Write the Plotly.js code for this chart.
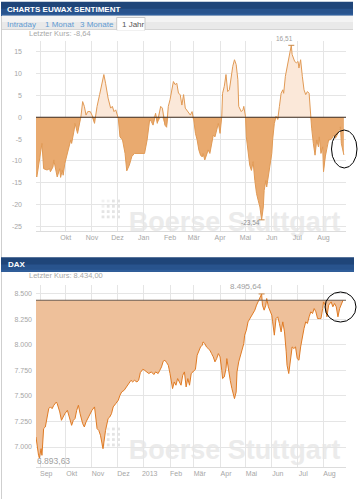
<!DOCTYPE html>
<html><head><meta charset="utf-8">
<script src="https://cdn.plot.ly/plotly-3.0.1.min.js"></script>
<style>html,body{margin:0;padding:0;background:#fff;}#chart{width:360px;height:499px;}</style>
</head><body><div id="chart"></div>
<script>
// ---------- DATA ----------
const sentDates = ['2012-08-27','2012-08-28','2012-09-03','2012-09-05','2012-09-09','2012-09-12','2012-09-13','2012-09-16','2012-09-17','2012-09-20','2012-09-21','2012-09-24','2012-09-25','2012-09-27','2012-09-28','2012-09-30',
'2012-10-02','2012-10-04','2012-10-07','2012-10-08','2012-10-11','2012-10-12','2012-10-15','2012-10-16','2012-10-18','2012-10-19','2012-10-21','2012-10-23','2012-10-25','2012-10-27','2012-10-30',
'2012-11-01','2012-11-04','2012-11-05','2012-11-07','2012-11-10','2012-11-12','2012-11-15','2012-11-17','2012-11-20','2012-11-23','2012-11-25','2012-11-27','2012-11-29',
'2012-12-02','2012-12-04','2012-12-07','2012-12-10','2012-12-12','2012-12-15','2012-12-18','2012-12-21',
'2013-01-02','2013-01-05','2013-01-08','2013-01-10','2013-01-12','2013-01-15','2013-01-17','2013-01-21','2013-01-23','2013-01-26','2013-01-28','2013-01-30',
'2013-02-01','2013-02-03','2013-02-05','2013-02-07','2013-02-09','2013-02-11','2013-02-13','2013-02-15','2013-02-17','2013-02-19','2013-02-22','2013-02-25','2013-02-27',
'2013-03-01','2013-03-03','2013-03-05','2013-03-07','2013-03-09','2013-03-11','2013-03-12','2013-03-14','2013-03-16','2013-03-18','2013-03-20','2013-03-22','2013-03-24','2013-03-26','2013-03-28','2013-03-30',
'2013-04-01','2013-04-03','2013-04-04','2013-04-06','2013-04-08','2013-04-10','2013-04-12','2013-04-14','2013-04-16','2013-04-18','2013-04-20','2013-04-22','2013-04-23','2013-04-26','2013-04-28','2013-04-29',
'2013-05-01','2013-05-02','2013-05-04','2013-05-06','2013-05-08','2013-05-10','2013-05-12','2013-05-14','2013-05-16','2013-05-18','2013-05-20','2013-05-22','2013-05-23','2013-05-25','2013-05-26','2013-05-28','2013-05-30',
'2013-06-01','2013-06-02','2013-06-04','2013-06-06','2013-06-08','2013-06-10','2013-06-12','2013-06-14','2013-06-15','2013-06-17','2013-06-19','2013-06-21','2013-06-22','2013-06-24','2013-06-25','2013-06-28','2013-06-30',
'2013-07-02','2013-07-03','2013-07-05','2013-07-07','2013-07-09','2013-07-11','2013-07-13','2013-07-15','2013-07-17','2013-07-18','2013-07-20','2013-07-22','2013-07-24','2013-07-26','2013-07-27','2013-07-29','2013-07-31',
'2013-08-01','2013-08-03','2013-08-05','2013-08-07','2013-08-09','2013-08-11','2013-08-13','2013-08-15','2013-08-17','2013-08-19','2013-08-21','2013-08-22','2013-08-24','2013-08-25'];
const sentValues = [-13.3,-13.7,-6.0,-11.8,-12.1,-11.8,-12.5,-11.4,-9.8,-13.0,-13.7,-11.8,-13.8,-12.1,-13.3,-10.6,
-8.7,-7.5,-5.2,-6.0,-2.9,-1.4,-3.7,-2.6,-0.6,0.2,3.6,2.5,0.5,1.3,1.3,
0.5,-1.4,0.2,2.5,5.2,7.1,9.8,7.8,4.4,2.1,2.5,1.3,1.7,
-0.2,-4.5,-5.2,-8.3,-12.3,-11.0,-9.0,-8.3,
-8.3,-5.2,-0.6,-1.0,-1.8,0.9,-1.4,2.5,2.1,-1.8,-2.3,2.5,
4.0,6.3,8.2,7.5,7.8,5.5,5.2,2.8,5.2,2.1,1.3,0.5,1.3,
-0.6,-3.7,-5.2,-7.5,-8.7,-9.1,-8.3,-9.8,-8.7,-7.5,-8.3,-6.0,-4.1,-4.5,-2.5,-1.4,
-3.7,0.2,5.5,7.1,9.8,5.9,6.3,9.4,11.7,13.2,12.1,8.6,2.5,1.3,1.7,2.5,
0.2,-4.5,-8.3,-11.0,-12.2,-10.2,-14.5,-17.5,-19.1,-20.6,-23.54,-20.6,-16.8,-14.5,-16.0,-13.7,-10.6,
-8.3,-5.2,-1.4,0.2,-0.5,2.5,5.5,6.3,5.5,9.4,11.7,13.2,14.4,16.51,14.4,12.8,12.5,
12.8,11.3,13.2,9.4,6.3,5.2,5.9,5.5,-0.2,-2.5,-6.0,-8.7,-5.2,-6.8,-4.5,-8.3,-6.8,
-12.5,-9.1,-6.8,-5.2,-5.2,-4.8,-4.1,-4.8,-4.1,-2.9,-2.2,-6.0,-7.9,-8.64];

const daxDates = ['2012-08-27','2012-08-28','2012-08-30','2012-08-31','2012-09-02','2012-09-03','2012-09-05','2012-09-07','2012-09-09','2012-09-11','2012-09-13','2012-09-15','2012-09-17','2012-09-20','2012-09-21','2012-09-24','2012-09-26','2012-09-28','2012-09-30',
'2012-10-03','2012-10-05','2012-10-08','2012-10-10','2012-10-12','2012-10-14','2012-10-16','2012-10-18','2012-10-21','2012-10-23','2012-10-25','2012-10-28','2012-10-31',
'2012-11-01','2012-11-04','2012-11-05','2012-11-07','2012-11-09','2012-11-11','2012-11-14','2012-11-15','2012-11-17','2012-11-20','2012-11-22','2012-11-24','2012-11-26','2012-11-29',
'2012-12-02','2012-12-04','2012-12-06','2012-12-09','2012-12-12','2012-12-14','2012-12-17','2012-12-19','2012-12-21','2012-12-24','2012-12-26','2012-12-28','2012-12-31',
'2013-01-02','2013-01-05','2013-01-07','2013-01-10','2013-01-13','2013-01-15','2013-01-18','2013-01-20','2013-01-22','2013-01-24','2013-01-26','2013-01-28','2013-01-30',
'2013-02-01','2013-02-03','2013-02-04','2013-02-06','2013-02-08','2013-02-10','2013-02-12','2013-02-14','2013-02-16','2013-02-18','2013-02-20','2013-02-22','2013-02-24','2013-02-26','2013-02-28',
'2013-03-03','2013-03-05','2013-03-07','2013-03-09','2013-03-11','2013-03-12','2013-03-14','2013-03-16','2013-03-18','2013-03-20','2013-03-22','2013-03-24','2013-03-26','2013-03-28','2013-03-30',
'2013-04-01','2013-04-03','2013-04-04','2013-04-06','2013-04-08','2013-04-09','2013-04-11','2013-04-13','2013-04-15','2013-04-17','2013-04-18','2013-04-20','2013-04-21','2013-04-23','2013-04-25','2013-04-27','2013-04-29','2013-04-30',
'2013-05-02','2013-05-04','2013-05-06','2013-05-08','2013-05-10','2013-05-12','2013-05-14','2013-05-16','2013-05-18','2013-05-20','2013-05-21','2013-05-23','2013-05-25','2013-05-26','2013-05-28','2013-05-30',
'2013-06-01','2013-06-02','2013-06-04','2013-06-06','2013-06-08','2013-06-10','2013-06-12','2013-06-14','2013-06-16','2013-06-18','2013-06-19','2013-06-21','2013-06-23','2013-06-25','2013-06-27','2013-06-29',
'2013-07-01','2013-07-03','2013-07-05','2013-07-07','2013-07-09','2013-07-11','2013-07-13','2013-07-15','2013-07-17','2013-07-19','2013-07-21','2013-07-23','2013-07-25','2013-07-27','2013-07-29','2013-07-31',
'2013-08-01','2013-08-03','2013-08-05','2013-08-07','2013-08-10','2013-08-12','2013-08-14','2013-08-16','2013-08-18','2013-08-20','2013-08-22','2013-08-24'];
const daxValues = [7098,7017,6919,6893.63,6984,6919,7180,7196,7278,7375,7392,7375,7408,7440,7424,7343,7261,7294,7326,
7359,7294,7212,7261,7278,7359,7408,7326,7229,7196,7245,7294,7343,
7359,7392,7326,7180,7163,7115,6984,7049,7163,7278,7294,7326,7392,7424,
7457,7506,7538,7555,7587,7620,7652,7636,7652,7636,7652,7727,7760,
7750,7727,7718,7734,7708,7734,7718,7750,7783,7838,7848,7825,7799,
7718,7620,7571,7636,7604,7669,7636,7604,7701,7734,7587,7669,7604,7718,7734,
7760,7897,7946,7978,7995,8027,8011,7978,7962,7946,7913,7881,7832,7864,7913,
7881,7750,7669,7685,7766,7864,7734,7652,7571,7489,7473,7538,7734,7832,7897,7946,8011,8093,
8141,8223,8255,8272,8304,8337,8386,8418,8451,8495.64,8386,8337,8386,8451,8370,8321,
8288,8223,8093,8255,8272,8207,8125,8223,8125,7930,7799,7718,7881,7978,7962,7978,
7864,7848,7978,8093,8158,8223,8207,8272,8321,8304,8353,8321,8255,8255,8255,8353,
8418,8386,8272,8386,8418,8370,8402,8370,8272,8353,8402,8434];

const sentLast = -8.64;
const daxLast = 8434.00;
const monthTicks = ['2012-09-01','2012-10-01','2012-11-01','2012-12-01','2013-01-01','2013-02-01','2013-03-01','2013-04-01','2013-05-01','2013-06-01','2013-07-01','2013-08-01'];
const sentMonthLabels = ['','Okt','Nov','Dez','Jan','Feb','Mär','Apr','Mai','Jun','Jul','Aug'];
const daxMonthLabels = ['Sep','Okt','Nov','Dez','2013','Feb','Mär','Apr','Mai','Jun','Jul','Aug'];
const sentTicks = [15,10,5,0,-5,-10,-15,-20,-25];
const sentTickLabels = ['15','10','5','0','-5','-10','-15','-20','-25'];
const daxTicks = [7000,7250,7500,7750,8000,8250,8500];
const daxTickLabels = ['7.000','7.250','7.500','7.750','8.000','8.250','8.500'];

// ---------- helpers ----------
const W = 360, H = 499;
const PX = p => p / W;
const PY = p => 1 - p / H;
const FONT = 'Liberation Sans, Arial, sans-serif';
const deFmt = (v, d) => v.toFixed(d).replace('.', '#').replace(/\B(?=(\d{3})+(?!\d))/g, '.').replace('#', ',');

const sentPos = sentValues.map(v => Math.max(v, 0));
const sentNeg = sentValues.map(v => Math.min(v, 0));
const daxRef = daxDates.map(() => daxLast);

let iMax = 0, iMin = 0;
sentValues.forEach((v, i) => { if (v > sentValues[iMax]) iMax = i; if (v < sentValues[iMin]) iMin = i; });
let dMax = 0, dMin = 0;
daxValues.forEach((v, i) => { if (v > daxValues[dMax]) dMax = i; if (v < daxValues[dMin]) dMin = i; });

const traces = [
  {x: sentDates, y: sentPos, type: 'scatter', mode: 'lines', fill: 'tozeroy', fillcolor: '#fbe8d9', line: {width: 0}, xaxis: 'x', yaxis: 'y', hoverinfo: 'skip'},
  {x: sentDates, y: sentNeg, type: 'scatter', mode: 'lines', fill: 'tozeroy', fillcolor: '#e9aa6f', line: {width: 0}, xaxis: 'x', yaxis: 'y', hoverinfo: 'skip'},
  {x: sentDates, y: sentValues, type: 'scatter', mode: 'lines', line: {color: '#e19a55', width: 1}, xaxis: 'x', yaxis: 'y'},
  {x: daxDates, y: daxRef, type: 'scatter', mode: 'lines', line: {width: 0}, xaxis: 'x2', yaxis: 'y2', hoverinfo: 'skip'},
  {x: daxDates, y: daxValues, type: 'scatter', mode: 'lines', fill: 'tonexty', fillcolor: '#eec09a', line: {color: '#e07b24', width: 1}, xaxis: 'x2', yaxis: 'y2'}
];

const xRange = ['2012-08-27', '2013-08-27 12:00'];
const gridC = '#e5e5e5';
const tickFont = {family: FONT, size: 7, color: '#a6a6a6'};

const shapes = [];
const annotations = [];

// left border of the widgets
shapes.push({type: 'line', xref: 'paper', yref: 'paper', x0: PX(1.5), x1: PX(1.5), y0: PY(16), y1: PY(499), line: {color: '#cfcfcf', width: 1}});

function header(y0, y1, x0, x1) {
  const h = y1 - y0;
  shapes.push({type: 'rect', xref: 'paper', yref: 'paper', x0: PX(x0), x1: PX(x1), y0: PY(y1), y1: PY(y0), fillcolor: '#1f4579', line: {width: 0}, layer: 'above'});
  shapes.push({type: 'rect', xref: 'paper', yref: 'paper', x0: PX(x0), x1: PX(x1), y0: PY(y1), y1: PY(y0 + h * 0.5), fillcolor: '#28538d', line: {width: 0}, layer: 'above'});
  shapes.push({type: 'rect', xref: 'paper', yref: 'paper', x0: PX(x0), x1: PX(x1), y0: PY(y1), y1: PY(y1 - 2), fillcolor: '#2f5e9b', line: {width: 0}, layer: 'above'});
}
header(1.7, 15.8, 1, 353);
header(257.3, 271.7, 1, 354);

// tab row
shapes.push({type: 'rect', xref: 'paper', yref: 'paper', x0: PX(2), x1: PX(353), y0: PY(29.5), y1: PY(15.8), fillcolor: '#e9e9e9', line: {width: 0}});
shapes.push({type: 'rect', xref: 'paper', yref: 'paper', x0: PX(2), x1: PX(353), y0: PY(22), y1: PY(15.8), fillcolor: '#f3f3f3', line: {width: 0}});
shapes.push({type: 'line', xref: 'paper', yref: 'paper', x0: PX(2), x1: PX(353), y0: PY(29.5), y1: PY(29.5), line: {color: '#d4d4d4', width: 1}});
shapes.push({type: 'rect', xref: 'paper', yref: 'paper', x0: PX(116.7), x1: PX(145), y0: PY(30), y1: PY(17.5), fillcolor: '#ffffff', line: {color: '#c9c9c9', width: 1}});
shapes.push({type: 'rect', xref: 'paper', yref: 'paper', x0: PX(117.4), x1: PX(144.3), y0: PY(30.5), y1: PY(28.5), fillcolor: '#ffffff', line: {width: 0}});

// zero line and reference line
shapes.push({type: 'line', xref: 'x domain', yref: 'y', x0: 0, x1: 1, y0: 0, y1: 0, line: {color: '#3d2b1f', width: 1.2}});
shapes.push({type: 'line', xref: 'x2 domain', yref: 'y2', x0: 0, x1: 1, y0: daxLast, y1: daxLast, line: {color: '#6e5c4f', width: 1.2}});

// max/min markers
shapes.push({type: 'line', xref: 'x', yref: 'y', xsizemode: 'pixel', xanchor: sentDates[iMax], x0: -3, x1: 3, y0: sentValues[iMax], y1: sentValues[iMax], line: {color: '#c98a4a', width: 1}});
shapes.push({type: 'line', xref: 'x', yref: 'y', xsizemode: 'pixel', xanchor: sentDates[iMin], x0: -3, x1: 3, y0: sentValues[iMin], y1: sentValues[iMin], line: {color: '#c98a4a', width: 1}});
shapes.push({type: 'line', xref: 'x2', yref: 'y2', xsizemode: 'pixel', xanchor: daxDates[dMax], x0: -3, x1: 3, y0: daxValues[dMax], y1: daxValues[dMax], line: {color: '#c98a4a', width: 1}});

// watermarks
function watermark(xa, ya, pyTop, plotTop, plotBot) {
  const yd = py => (plotBot - py) / (plotBot - plotTop);
  const xd = px => (px - 36) / 310;
  shapes.push({type: 'rect', xref: xa + ' domain', yref: ya + ' domain', x0: xd(125), x1: xd(344), y0: yd(pyTop + 27), y1: yd(pyTop - 3), line: {width: 0}, fillcolor: 'rgba(0,0,0,0)', layer: 'below',
    label: {text: 'Boerse Stuttgart', textposition: 'middle center', font: {family: 'Liberation Sans, Arial, sans-serif', size: 27, color: '#ebebeb', weight: 'bold'}}});
  for (let r = 0; r < 4; r++) for (let c = 0; c < 4; c++) {
    const cx = 103 + c * 5.2, cy = pyTop - 6 + r * 5.3;
    const col = (r + c < 2) ? '#f1f1f1' : '#e4e4e4';
    shapes.push({type: 'rect', xref: xa + ' domain', yref: ya + ' domain', x0: xd(cx - 1.4), x1: xd(cx + 1.4), y0: yd(cy + 1.4), y1: yd(cy - 1.4), fillcolor: col, line: {width: 0}, layer: 'below'});
  }
}
watermark('x', 'y', 207, 41, 231);
watermark('x2', 'y2', 435, 285, 467);

// hand-drawn ellipses
shapes.push({type: 'circle', xref: 'paper', yref: 'paper', x0: PX(331.5), x1: PX(357), y0: PY(168), y1: PY(130), line: {color: '#000', width: 1}});
shapes.push({type: 'circle', xref: 'paper', yref: 'paper', x0: PX(325), x1: PX(356), y0: PY(322), y1: PY(292), line: {color: '#000', width: 1}});

// texts
function txt(text, px, py, size, color, bold, anchor) {
  annotations.push({text: bold ? '<b>' + text + '</b>' : text, xref: 'paper', yref: 'paper', x: PX(px), y: PY(py), xanchor: anchor || 'left', yanchor: 'middle',
    showarrow: false, font: {family: FONT, size: size, color: color}});
}
txt('CHARTS EUWAX SENTIMENT', 4.5, 9, 8, '#ffffff', true);
txt('DAX', 5.5, 264.8, 8, '#ffffff', true);
txt('Intraday', 4.5, 24, 8, '#5e9bd3');
txt('1 Monat', 42.5, 24, 8, '#5e9bd3');
txt('3 Monate', 77.5, 24, 8, '#5e9bd3');
txt('1 Jahr', 120, 24, 8, '#555555');
txt('Letzter Kurs: ' + deFmt(sentLast, 2), 26.5, 33.5, 7.5, '#a8a8a8');
txt('Letzter Kurs: ' + deFmt(daxLast, 2), 26.5, 275.2, 7.5, '#a8a8a8');

annotations.push({text: deFmt(sentValues[iMax], 2), x: sentDates[iMax], y: sentValues[iMax], xref: 'x', yref: 'y', showarrow: false, xshift: -7, yshift: 7, font: {family: FONT, size: 6.5, color: '#a0a0a0'}});
annotations.push({text: deFmt(sentValues[iMin], 2), x: sentDates[iMin], y: sentValues[iMin], xref: 'x', yref: 'y', showarrow: false, xshift: -11, yshift: -3, font: {family: FONT, size: 6.5, color: '#909090'}});
annotations.push({text: deFmt(daxValues[dMax], 2), x: daxDates[dMax], y: daxValues[dMax], xref: 'x2', yref: 'y2', showarrow: false, xshift: -16, yshift: 7, font: {family: FONT, size: 8, color: '#a0a0a0'}});
annotations.push({text: deFmt(daxValues[dMin], 2), x: daxDates[dMin], y: daxValues[dMin], xref: 'x2', yref: 'y2', showarrow: false, xanchor: 'left', xshift: -4, yshift: -3.5, font: {family: FONT, size: 8.5, color: '#a0a0a0'}});

const layout = {
  width: W, height: H,
  margin: {l: 0, r: 0, t: 0, b: 0},
  paper_bgcolor: '#ffffff', plot_bgcolor: 'rgba(0,0,0,0)',
  showlegend: false,
  separators: ',.',
  xaxis: {type: 'date', domain: [PX(36), PX(346)], range: xRange, anchor: 'y', tickmode: 'array', tickvals: monthTicks, ticktext: sentMonthLabels,
    showgrid: true, gridcolor: gridC, gridwidth: 1, zeroline: false, showline: true, linecolor: '#dcdcdc', linewidth: 1, ticks: '', tickfont: tickFont, fixedrange: true},
  yaxis: {domain: [PY(231), PY(41)], range: [-26.1, 17.5], anchor: 'x', tickmode: 'array', tickvals: sentTicks, ticktext: sentTickLabels,
    showgrid: true, gridcolor: gridC, zeroline: false, showline: false, ticks: '', ticklabelstandoff: 13, tickfont: tickFont, fixedrange: true},
  xaxis2: {type: 'date', domain: [PX(36), PX(346)], range: xRange, anchor: 'y2', tickmode: 'array', tickvals: monthTicks, ticktext: daxMonthLabels,
    showgrid: true, gridcolor: gridC, zeroline: false, showline: true, linecolor: '#dcdcdc', linewidth: 1, ticks: '', ticklabelshift: 6, tickfont: tickFont, fixedrange: true},
  yaxis2: {domain: [PY(467), PY(285)], range: [6805, 8583], anchor: 'x2', tickmode: 'array', tickvals: daxTicks, ticktext: daxTickLabels,
    showgrid: true, gridcolor: gridC, zeroline: false, showline: false, ticks: '', ticklabelstandoff: 3, tickfont: tickFont, fixedrange: true},
  shapes: shapes,
  annotations: annotations
};

Plotly.newPlot('chart', traces, layout, {staticPlot: true, displayModeBar: false});
</script>
</body></html>
